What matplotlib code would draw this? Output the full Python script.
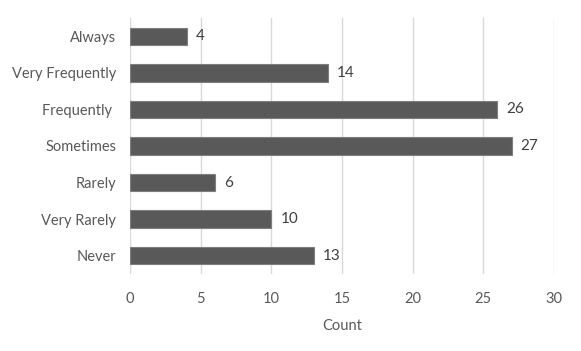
import matplotlib
matplotlib.use("Agg")
import matplotlib.pyplot as plt

categories = ["Never", "Very Rarely", "Rarely", "Sometimes", "Frequently ", "Very Frequently", "Always"]
counts = [13, 10, 6, 27, 26, 14, 4]
x_ticks = [0, 5, 10, 15, 20, 25, 30]

plt.rcParams['font.family'] = ['Lato', 'DejaVu Sans']
text_color = "#595959"

fig = plt.figure(figsize=(5.81, 3.51), dpi=100)
ax = fig.add_axes([0.2238, 0.2194, 0.7297, 0.7293])

ax.barh(categories, counts, height=0.48, color="#595959", edgecolor="#7f7f7f", linewidth=0.8, zorder=3)
for i, v in enumerate(counts):
    ax.text(v + 0.65, i, str(v), va="center", ha="left", fontsize=11, color="#404040")

ax.set_xlim(0, 30)
ax.set_ylim(-0.5, len(categories) - 0.5)
ax.set_xticks(x_ticks)
ax.grid(axis="x", color="#d9d9d9", linewidth=1, zorder=0)
for s in ax.spines.values():
    s.set_visible(False)
ax.tick_params(axis="both", length=0, labelsize=10.5, labelcolor=text_color)
ax.tick_params(axis="x", pad=13)
ax.tick_params(axis="y", pad=10)
ax.set_xlabel("Count", fontsize=10.5, color=text_color, labelpad=9)

fig.savefig("out.png", dpi=100)
